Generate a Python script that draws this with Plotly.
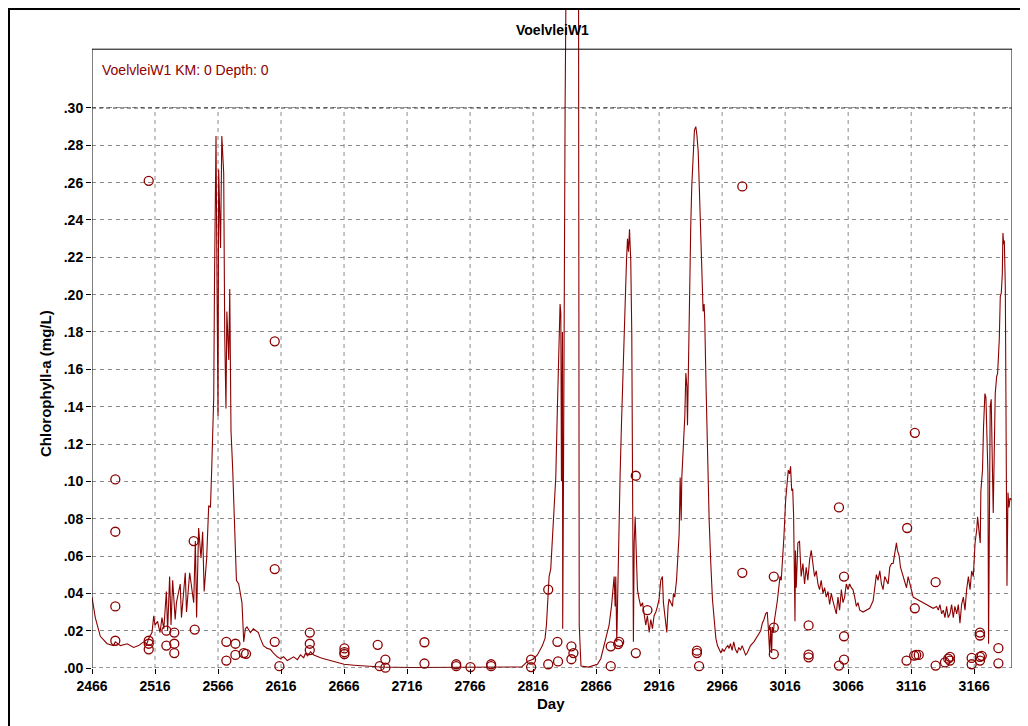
"""
Chlorophyll-a time series for VoelvleiW1: modelled line plus observed points.
"""

import plotly.graph_objects as go

# ---- data ----
model_day = [
    2466, 2468.6, 2472.6, 2478, 2483, 2484.5, 2488.5, 2494, 2499, 2503, 2507, 2509.6,
    2511, 2513.6, 2515, 2516, 2518, 2520, 2521.5, 2523, 2525, 2526, 2527.6, 2528.7,
    2530, 2532, 2533, 2536, 2537, 2540, 2541, 2543.5, 2546.7, 2548, 2549, 2550.6,
    2552.5, 2553.8, 2555, 2557, 2558.6, 2560, 2561, 2562.6, 2563.2, 2564.4, 2565.2,
    2566, 2566.5, 2568, 2569, 2570.5, 2571.3, 2572.3, 2573, 2574.5, 2575.3, 2576.3,
    2577.6, 2579, 2580.6, 2582.4, 2585, 2586.4, 2587.7, 2589, 2591.7, 2594, 2598,
    2599.5, 2602, 2605, 2607.5, 2610, 2613, 2615.5, 2618, 2621, 2623.5, 2626, 2629,
    2631.4, 2634, 2635.4, 2637, 2639.4, 2642, 2645, 2647.4, 2650, 2652.7, 2655, 2658,
    2660.7, 2666, 2674, 2684.6, 2695, 2720, 2760, 2790, 2807, 2811.5, 2816, 2819.4,
    2823.4, 2825.5, 2826.6, 2827.4, 2828.7, 2830, 2831.3, 2832.7, 2834, 2835.3,
    2836.6, 2837.4, 2838, 2838.5, 2839.3, 2839.5, 2840.1, 2840.6, 2841.4, 2842.5,
    2852, 2852.6, 2854, 2860, 2867, 2869.7, 2872.3, 2874.5, 2876.3, 2878.2, 2880.3,
    2881.1, 2881.6, 2882.4, 2883.5, 2885, 2886.1, 2887.2, 2888.2, 2889.3, 2890.1,
    2890.9, 2891.7, 2892.5, 2893.5, 2894.3, 2895.1, 2895.6, 2896.2, 2897, 2897.7,
    2898.8, 2900.1, 2901.4, 2902.8, 2904.1, 2905.4, 2906.7, 2908.1, 2909.4, 2910.7,
    2912, 2913.4, 2914.7, 2916, 2917.3, 2918.6, 2919.4, 2920.5, 2921.3, 2922.1,
    2923.1, 2923.9, 2925.3, 2926.6, 2927.4, 2928.4, 2929.8, 2931.1, 2931.9, 2932.7,
    2933.5, 2934, 2935, 2936.4, 2937.2, 2938, 2938.5, 2939.3, 2940.3, 2941.1, 2941.9,
    2943, 2944, 2945.1, 2945.9, 2947, 2948, 2949.1, 2949.9, 2950.4, 2950.9, 2951.7,
    2952.2, 2953.3, 2954.4, 2955.7, 2957, 2958.3, 2959.7, 2961, 2962.3, 2964, 2965,
    2966.3, 2967.6, 2969.2, 2970.5, 2971.5, 2972.6, 2973.9, 2975.2, 2976.5, 2978,
    2979.2, 2980.6, 2981.9, 2983.3, 2984.6, 2985.9, 2987.3, 2988.5, 2991.2, 2993.9,
    2996.6, 2997.9, 2999.2, 3000.5, 3001.8, 3002.6, 3003.7, 3004.5, 3005.3, 3005.8,
    3006.6, 3007.6, 3008.3, 3009.8, 3011.1, 3011.9, 3012.9, 3013.7, 3015, 3016.4,
    3017.7, 3018.5, 3019.5, 3020.3, 3021.2, 3022, 3022.7, 3023.3, 3023.8, 3024.2,
    3024.8, 3026.1, 3027.4, 3028.7, 3030.1, 3031.4, 3032.7, 3034, 3035.4, 3036.7,
    3038, 3039.3, 3040.7, 3042, 3043.3, 3044.6, 3046, 3047.3, 3048.6, 3050, 3051.3,
    3052.6, 3053.9, 3055.3, 3056.6, 3057.9, 3059.2, 3060.6, 3061.9, 3063.2, 3064.5,
    3065.9, 3067.2, 3068.5, 3069.8, 3071.2, 3072.5, 3073.8, 3075.2, 3077.8, 3080.5,
    3083.1, 3085.8, 3087.1, 3088.4, 3089.7, 3091.1, 3092.4, 3093.7, 3095, 3096.4,
    3097.7, 3099, 3100.4, 3101.7, 3103, 3104.3, 3105.1, 3106.5, 3107.5, 3108.3,
    3109.6, 3111, 3112.3, 3113.6, 3114.9, 3116.3, 3117.6, 3120.2, 3122.9, 3125.5,
    3128.2, 3130.9, 3133.5, 3136.2, 3137.5, 3138.8, 3140.2, 3141.5, 3142.8, 3144.1,
    3145.4, 3146.8, 3148.1, 3149.4, 3150.7, 3152.1, 3153.4, 3154.7, 3156, 3157.4,
    3158.7, 3160, 3161.4, 3162.7, 3164, 3165.3, 3166.7, 3168, 3168.7, 3170, 3170.8,
    3171.3, 3172.6, 3173.4, 3174.5, 3175.3, 3176.1, 3176.9, 3177.4, 3177.9, 3178.7,
    3179.5, 3180.3, 3181.1, 3181.9, 3182.7, 3183.8, 3184.6, 3185.4, 3185.9, 3186.7,
    3187.5, 3188.3, 3188.8, 3189.4, 3189.9, 3190.7, 3191.5, 3192, 3192.8, 3193.6,
    3194.4, 3195.5,
]
model_chla = [
    .038, .027, .017, .013, .012, .014, .012, .013, .011, .012, .014, .013,
    .016, .019, .028, .023, .025, .019, .027, .021, .041, .020, .049, .023,
    .047, .026, .035, .045, .027, .051, .030, .051, .035, .068, .027, .075,
    .059, .073, .041, .059, .087, .086, .107, .145, .207, .285, .205,
    .135, .267, .225, .285, .265, .179, .139, .191, .165, .203, .127,
    .107, .075, .047, .045, .035, .014, .021, .022, .019, .021, .019,
    .016, .012, .0105, .010, .008, .006, .005, .006, .004, .005, .006, .0045,
    .007, .0055, .008, .0065, .0087, .007, .006, .0055, .005, .0045, .004, .0038,
    .003, .002, .0015, .0009, .0005, .0003, .0003, .0004, .0006, .0035, .0047, .007,
    .012, .016, .023, .033, .049, .053, .070, .084, .102, .14,
    .18, .195, .19, .10, .18, .021, .10, .226, .30, .40,
    .40, .023, .001, .0005, .002, .005, .012, .019, .023, .033, .049,
    .033, .049, .014, .060, .102, .130, .158, .180, .210, .218,
    .230, .223, .235, .218, .179, .042, .014, .067, .081, .065,
    .042, .037, .033, .035, .030, .023, .028, .019, .026, .021,
    .028, .030, .033, .037, .047, .049, .035, .028, .021, .019,
    .033, .037, .035, .033, .040, .038, .047, .060, .072, .102,
    .079, .102, .114, .135, .158, .151, .130, .172, .207, .237, .258,
    .277, .288, .290, .286, .277, .256, .228, .207, .200, .191, .195,
    .186, .149, .114, .079, .056, .037, .026, .016, .012, .0096, .008,
    .010, .009, .011, .012, .0105, .013, .0095, .014, .010, .008,
    .011, .0096, .012, .0096, .007, .008, .0105, .012, .014, .017,
    .020, .024, .026, .029, .030, .022, .008, .022, .008, .022,
    .019, .026, .029, .036, .044, .049, .047, .054, .070, .090,
    .101, .106, .104, .108, .095, .096, .082, .060, .025, .063,
    .043, .067, .068, .049, .056, .045, .054, .047, .058, .063,
    .056, .049, .052, .045, .042, .047, .040, .043, .038, .041, .034,
    .040, .036, .033, .029, .038, .031, .042, .035, .038, .045,
    .042, .045, .043, .042, .038, .033, .035, .031, .030, .031,
    .032, .036, .045, .050, .047, .052, .045, .042, .049, .047,
    .045, .054, .056, .056, .063, .067, .063, .060, .054, .052,
    .049, .045, .043, .049, .045, .042, .038, .037, .036, .035,
    .034, .033, .032, .033, .031, .034, .029, .031, .027, .033,
    .027, .029, .034, .027, .033, .029, .034, .024, .034, .038,
    .031, .042, .049, .042, .052, .049, .067, .074, .081, .072, .067,
    .095, .106, .129, .147, .145, .126, .104, .013, .094, .140,
    .144, .104, .083, .115, .147, .156, .158, .169, .176, .199,
    .201, .211, .233, .227, .229, .204, .111, .044, .094, .086,
    .091, .090,
]

obs_day = [
    2484.5, 2484.5, 2484.5, 2484.5, 2511, 2511, 2511, 2511, 2525, 2525,
    2531.3, 2531.3, 2531.3, 2546.7, 2547.5, 2572.6, 2572.6, 2579.8, 2579.8, 2586.4,
    2588.2, 2611, 2611, 2611, 2614.7, 2638.8, 2638.8, 2638.8, 2666.3, 2666.3,
    2666.3, 2692.7, 2694.3, 2698.8, 2698.8, 2729.8, 2729.8, 2755, 2755, 2766.3,
    2782.7, 2782.7, 2814.4, 2814.4, 2828, 2828, 2835.3, 2835.8, 2846.4, 2846.4,
    2848, 2877.6, 2877.6, 2883.5, 2884.3, 2897.5, 2897.5, 2906.7, 2946, 2946,
    2947.7, 2982, 2982, 3007, 3007, 3007, 3034.6, 3034.6, 3034.6, 3058.7,
    3058.7, 3062.7, 3062.7, 3062.7, 3112.8, 3112.3, 3118.9, 3118.9, 3118.4, 3120,
    3122, 3135.4, 3135.4, 3142.8, 3145.4, 3146.8, 3146.8, 3164, 3164, 3170.6,
    3170.6, 3170.6, 3170.6, 3172, 3185.2, 3185.2,
]
obs_chla = [
    .101, .073, .033, .0146, .261, .0146, .013, .010, .020, .012,
    .019, .013, .008, .068, .0206, .014, .004, .013, .007, .008,
    .0076, .175, .053, .014, .001, .019, .013, .0096, .0105, .0085,
    .0075, .0124, .001, .0045, .0002, .0138, .0024, .002, .001, .0005,
    .002, .001, .0045, .0005, .042, .002, .014, .0035, .0116, .0047,
    .008, .0116, .001, .0128, .014, .103, .008, .031, .0093, .008,
    .001, .258, .051, .049, .0216, .0074, .0228, .0072, .0057, .086,
    .0013, .049, .017, .0045, .075, .004, .126, .032, .0066, .007,
    .007, .046, .0013, .003, .005, .004, .006, .0054, .002, .019,
    .0174, .006, .004, .0065, .0106, .0025,
]

x_ticks = [2466, 2516, 2566, 2616, 2666, 2716, 2766, 2816, 2866, 2916, 2966, 3016, 3066, 3116, 3166]
y_ticks = [0, .02, .04, .06, .08, .10, .12, .14, .16, .18, .20, .22, .24, .26, .28, .30]
y_labels = [".00", ".02", ".04", ".06", ".08", ".10", ".12", ".14", ".16", ".18",
            ".20", ".22", ".24", ".26", ".28", ".30"]

# ---- geometry ----
# the page body has an 8px margin, so the figure is 8px smaller than the window
OFF = 8
W, H = 1028 - OFF, 726 - OFF
L, R, B = 92 - OFF, 16, 58          # plot area: page px 92..1012, page py 8..668
PW, PH = W - L - R, H - B
X_MIN, X_MAX = 2466, 3196
Y_FULL = (668 - OFF) / 1866.7       # value at the top edge of the figure
Y_BOX = 0.3315                      # top of the drawn chart frame
DARKRED = "#8b0000"
GRID = "#8c8c8c"
FONT = "Liberation Sans, Arial, sans-serif"


def px(x):
    """page x pixel -> paper coordinate"""
    return (x - OFF - L) / PW


def py(y):
    """page y pixel -> paper coordinate"""
    return (PH - (y - OFF)) / PH


fig = go.Figure()

fig.add_trace(go.Scatter(
    x=model_day, y=model_chla, mode="lines",
    line=dict(color=DARKRED, width=1.1),
    showlegend=False,
))
fig.add_trace(go.Scatter(
    x=obs_day, y=obs_chla, mode="markers",
    marker=dict(symbol="circle-open", size=9, color=DARKRED, line=dict(width=1.3, color=DARKRED)),
    showlegend=False, cliponaxis=False,
))

fig.update_layout(
    width=W, height=H,
    margin=dict(l=L, r=R, t=0, b=B, autoexpand=False),
    paper_bgcolor="white", plot_bgcolor="white",
    font=dict(family=FONT, size=14, color="black"),
    xaxis=dict(
        range=[X_MIN, X_MAX],
        tickvals=x_ticks, ticks="outside", ticklen=5, tickcolor="black",
        tickfont=dict(size=14, weight="bold"),
        showgrid=False, zeroline=False, showline=False,
    ),
    yaxis=dict(
        range=[0, Y_FULL],
        tickvals=y_ticks, ticktext=y_labels, ticks="outside", ticklen=5, tickcolor="black",
        tickfont=dict(size=14, weight="bold"),
        showgrid=True, gridcolor=GRID, griddash="4px,4px", gridwidth=1,
        zeroline=False, showline=False,
    ),
)

# vertical grid lines only span the .00 - .30 band
for xv in x_ticks[1:]:
    fig.add_shape(type="line", xref="x", yref="y", x0=xv, x1=xv, y0=y_ticks[0], y1=y_ticks[-1],
                  line=dict(color=GRID, width=1, dash="4px,4px"), layer="below")

# chart frame: solid left / top / right, darker dashed base and .30 lines
fig.add_shape(type="path", xref="x", yref="y",
              path=f"M {X_MIN},0 L {X_MIN},{Y_BOX} L {X_MAX},{Y_BOX} L {X_MAX},0",
              line=dict(color="black", width=1))
for yv in (y_ticks[0], y_ticks[-1]):
    fig.add_shape(type="line", xref="x", yref="y", x0=X_MIN, x1=X_MAX, y0=yv, y1=yv,
                  line=dict(color="#333333", width=1, dash="4px,3px"))

# outer window border (left and top)
fig.add_shape(type="path", xref="paper", yref="paper",
              path=f"M {px(9)},{py(740)} L {px(9)},{py(9)} L {px(1040)},{py(9)}",
              line=dict(color="black", width=2))

fig.add_annotation(text="VoelvleiW1", x=px(552), y=py(30), xref="paper", yref="paper",
                   xanchor="center", yanchor="middle", showarrow=False,
                   font=dict(size=14, weight="bold"))
fig.add_annotation(text="VoelvleiW1 KM: 0 Depth: 0", x=px(100), y=py(70),
                   xref="paper", yref="paper", xanchor="left", yanchor="middle",
                   showarrow=False, font=dict(size=14, color=DARKRED))
fig.add_annotation(text="Day", x=px(551), y=py(703), xref="paper", yref="paper",
                   xanchor="center", yanchor="middle", showarrow=False,
                   font=dict(size=15, weight="bold"))
fig.add_annotation(text="Chlorophyll-a (mg/L)", x=px(45), y=py(384), xref="paper", yref="paper",
                   xanchor="center", yanchor="middle", showarrow=False, textangle=-90,
                   font=dict(size=15, weight="bold"))

fig.write_html("out.html")
